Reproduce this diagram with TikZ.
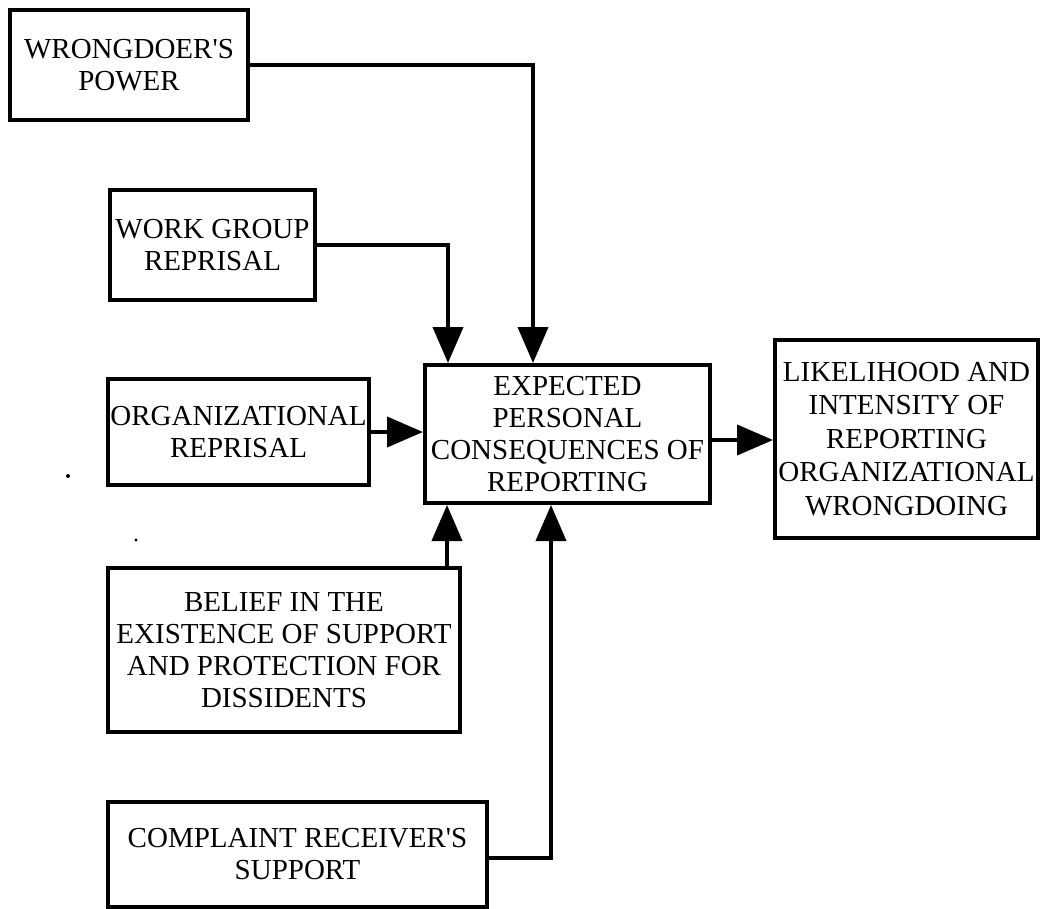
\documentclass[tikz,border=0pt]{standalone}
\usepackage{fontspec}
\setmainfont{Liberation Serif}
\usetikzlibrary{arrows.meta}

\begin{document}
\begin{tikzpicture}[x=0.5pt,y=-0.5pt,
  box/.style={draw, line width=2pt, inner sep=0pt, align=center,
    font=\fontsize{14.5}{16}\selectfont},
  conn/.style={line width=2pt, -{Triangle[length=18pt,width=15pt]}},
  speck/.style={fill=black, draw=none}]
  \useasboundingbox (0,0) rectangle (1043,909);

  % boxes
  \node[box, minimum width=119pt, minimum height=55pt] (wrong) at (129,65)
    {WRONGDOER\textquotesingle S\\POWER};
  \node[box, minimum width=102.5pt, minimum height=55pt] (work) at (212.5,245)
    {WORK GROUP\\REPRISAL};
  \node[box, minimum width=130.5pt, minimum height=53pt] (org) at (238.5,432)
    {ORGANIZATIONAL\\REPRISAL};
  \node[box, minimum width=142.5pt, minimum height=69pt] (cen) at (567.5,434)
    {EXPECTED\\PERSONAL\\CONSEQUENCES OF\\REPORTING};
  \node[box, minimum width=131.5pt, minimum height=99pt,
    font=\fontsize{14.5}{16.7}\selectfont] (out) at (906.5,439)
    {LIKELIHOOD AND\\INTENSITY OF\\REPORTING\\ORGANIZATIONAL\\WRONGDOING};
  \node[box, minimum width=176pt, minimum height=82pt] (belief) at (284,650)
    {BELIEF IN THE\\EXISTENCE OF SUPPORT\\AND PROTECTION FOR\\DISSIDENTS};
  \node[box, minimum width=189.5pt, minimum height=52.5pt] (comp) at (297.5,854)
    {COMPLAINT RECEIVER\textquotesingle S\\SUPPORT};

  % routing columns and rows
  \coordinate (xwrong) at (533,0);
  \coordinate (xwork) at (448,0);
  \coordinate (xbelief) at (447,0);
  \coordinate (xcomp) at (551,0);
  \coordinate (ycomp) at (0,858);
  \coordinate (yout) at (0,440);

  % connectors
  \draw[conn] (wrong.east) -| (xwrong |- cen.north);
  \draw[conn] (work.east) -| (xwork |- cen.north);
  \draw[conn] (org.east) -- (org.east -| cen.west);
  \draw[conn] (xbelief |- belief.north) -- (xbelief |- cen.south);
  \draw[conn] (comp.east |- ycomp) -| (xcomp |- cen.south);
  \draw[conn] (cen.east |- yout) -- (out.west |- yout);

  % specks
  \fill[speck] (68,476) circle (1pt);
  \fill[speck] (136,540) circle (0.8pt);
\end{tikzpicture}
\end{document}
